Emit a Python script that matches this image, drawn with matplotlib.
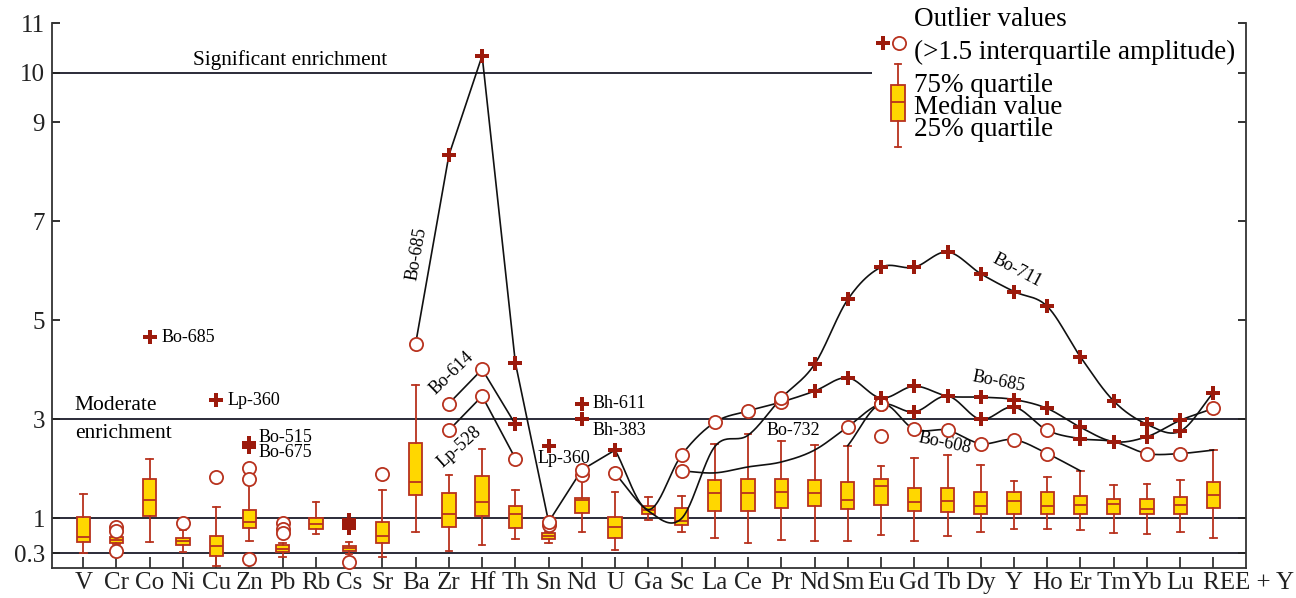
import numpy as np
import matplotlib
matplotlib.use("Agg")
import matplotlib.pyplot as plt
from matplotlib.transforms import ScaledTranslation

plt.rcParams["font.family"] = ["Liberation Serif", "DejaVu Serif"]

RED = "#b8321e"
DARK = "#9c1a0c"
GOLD = "#ffd700"
LINE = "#2b2b38"

elements = ["V", "Cr", "Co", "Ni", "Cu", "Zn", "Pb", "Rb", "Cs", "Sr", "Ba", "Zr", "Hf",
            "Th", "Sn", "Nd", "U", "Ga", "Sc", "La", "Ce", "Pr", "Nd", "Sm", "Eu", "Gd",
            "Tb", "Dy", "Y", "Ho", "Er", "Tm", "Yb", "Lu", "REE + Y"]

# box statistics per element (enrichment coefficient)
whislo = [0.30, 0.49, 0.52, 0.32, 0.04, 0.55, 0.22, 0.68, 0.28, 0.23, 0.73, 0.34, 0.46,
          0.58, 0.51, 0.72, 0.36, 0.97, 0.73, 0.61, 0.51, 0.56, 0.55, 0.54, 0.67, 0.55,
          0.65, 0.72, 0.78, 0.79, 0.77, 0.71, 0.69, 0.73, 0.60]
q1 = [0.53, 0.51, 1.05, 0.46, 0.24, 0.80, 0.32, 0.78, 0.35, 0.50, 1.47, 0.82, 1.05,
      0.81, 0.58, 1.12, 0.61, 1.10, 0.86, 1.16, 1.16, 1.22, 1.25, 1.19, 1.28, 1.16,
      1.14, 1.10, 1.10, 1.09, 1.08, 1.08, 1.08, 1.10, 1.22]
med = [0.63, 0.565, 1.37, 0.54, 0.44, 0.92, 0.38, 0.89, 0.40, 0.65, 1.73, 1.10, 1.34,
       1.08, 0.645, 1.37, 0.83, 1.18, 0.95, 1.51, 1.51, 1.54, 1.51, 1.37, 1.66, 1.34,
       1.35, 1.25, 1.35, 1.26, 1.28, 1.29, 1.20, 1.27, 1.47]
q3 = [1.03, 0.62, 1.79, 0.60, 0.65, 1.17, 0.46, 1.01, 0.45, 0.93, 2.53, 1.51, 1.86,
      1.26, 0.70, 1.42, 1.03, 1.25, 1.22, 1.77, 1.79, 1.79, 1.77, 1.73, 1.79, 1.62,
      1.62, 1.53, 1.53, 1.53, 1.46, 1.39, 1.39, 1.44, 1.74]
whishi = [1.49, 0.64, 2.20, 0.77, 1.24, 1.72, 0.50, 1.33, 0.53, 1.57, 3.69, 1.88, 2.40,
          1.57, 0.73, 1.77, 1.54, 1.44, 1.46, 2.50, 2.70, 2.56, 2.49, 2.47, 2.06, 2.23,
          2.28, 2.07, 1.75, 1.84, 1.96, 1.67, 1.69, 1.77, 2.38]

# single outliers not joined into sample profiles
circ_pos = [1, 1, 1, 3, 4, 5, 5, 5, 6, 6, 6, 8, 9, 14, 15, 24]
circ_val = [0.83, 0.75, 0.34, 0.91, 1.83, 2.02, 1.79, 0.18, 0.90, 0.78, 0.71, 0.13,
            1.89, 0.86, 1.88, 2.66]
cross_pos = [2, 4, 5, 5, 8, 8, 8, 14, 15, 15]
cross_val = [4.66, 3.39, 2.53, 2.45, 0.97, 0.89, 0.80, 2.47, 3.31, 3.00]

# sample profiles: start index, values, marker code (c circle, p cross, - none)
bo685_a_start = 10
bo685_a = [4.53, 8.33, 10.34, 4.14, 0.93, 1.98, 2.38]
bo685_a_m = "cpppccp"
bo685_b_start = 16
bo685_b = [2.38, 1.18, 2.28, 2.94, 3.17, 3.35, 3.57, 3.84, 3.43, 3.67, 3.47, 3.45, 3.40,
           3.22, 2.84, 2.55, 2.65, 2.98, 3.22]
bo685_b_m = "p-ccccppppppppppppc"
bo711_start = 16
bo711 = [1.91, 1.15, 1.00, 2.45, 2.68, 3.43, 4.11, 5.42, 6.07, 6.07, 6.38, 5.94, 5.58,
         5.28, 4.26, 3.37, 2.90, 2.76, 3.54]
bo711_m = "c----cppppppppppppp"
bo732_start = 18
bo732 = [1.96, 1.92, 2.04, 2.14, 2.38, 2.85, 3.31, 3.15, 3.47, 3.00, 3.25, 2.78, 2.61,
         2.55, 2.31, 2.31, 2.38]
bo732_m = "c----ccppppcppcc-"
bo608_start = 23
bo608 = [2.47, 3.31, 2.80, 2.78, 2.51, 2.59, 2.31, 1.96]
bo608_m = "-cccccc-"
bo614_start = 11
bo614 = [3.32, 4.01, 2.90]
bo614_m = "ccp"
lp528_start = 11
lp528 = [2.78, 3.47, 2.21]
lp528_m = "ccc"


def catmull_rom(x, y, n=24):
    x = np.asarray(x, float)
    y = np.asarray(y, float)
    px = np.concatenate([[2 * x[0] - x[1]], x, [2 * x[-1] - x[-2]]])
    py = np.concatenate([[2 * y[0] - y[1]], y, [2 * y[-1] - y[-2]]])
    xs, ys = [], []
    for i in range(len(x) - 1):
        t = np.linspace(0, 1, n, endpoint=(i == len(x) - 2))
        for p, out in ((px, xs), (py, ys)):
            p0, p1, p2, p3 = p[i:i + 4]
            out.append(0.5 * (2 * p1 + (-p0 + p2) * t
                              + (2 * p0 - 5 * p1 + 4 * p2 - p3) * t ** 2
                              + (-p0 + 3 * p1 - 3 * p2 + p3) * t ** 3))
    return np.concatenate(xs), np.concatenate(ys)


def circle(ax, x, y):
    ax.plot(x, y, "o", ms=9.5, mfc="white", mec=RED, mew=1.3, zorder=4, clip_on=False)


def cross(ax, x, y):
    ax.plot(x, y, "P", ms=9.5, color=DARK, mew=0, zorder=5, clip_on=False)


def profile(ax, start, vals, codes, smooth=True):
    xs = np.arange(start, start + len(vals))
    if smooth:
        cx, cy = catmull_rom(xs, vals)
    else:
        cx, cy = xs, vals
    ax.plot(cx, cy, color="#111111", lw=1.2, zorder=3)
    for x, v, c in zip(xs, vals, codes):
        if c == "c":
            circle(ax, x, v)
        elif c == "p":
            cross(ax, x, v)


fig = plt.figure(figsize=(12.96, 5.98), dpi=100)
ax = fig.add_axes([52 / 1296, 30 / 598, 1194 / 1296, 545 / 598])

for lvl in (0.3, 1, 3):
    ax.axhline(lvl, color=LINE, lw=1.4, zorder=1)
ax.hlines(10, -0.94, 23.73, color=LINE, lw=1.4, zorder=1)

stats = [dict(whislo=a, q1=b, med=c, q3=d, whishi=e, fliers=[])
         for a, b, c, d, e in zip(whislo, q1, med, q3, whishi)]
boxkw = dict(widths=0.4, capwidths=0.2, patch_artist=True, showfliers=False,
             boxprops=dict(facecolor=GOLD, edgecolor=RED, linewidth=1.3),
             medianprops=dict(color=RED, linewidth=1.3),
             whiskerprops=dict(color=RED, linewidth=1.3),
             capprops=dict(color=RED, linewidth=1.3), zorder=2)
ax.bxp(stats, positions=list(range(len(elements))), **boxkw)

for p, v in zip(circ_pos, circ_val):
    circle(ax, p, v)
for p, v in zip(cross_pos, cross_val):
    cross(ax, p, v)

profile(ax, bo685_a_start, bo685_a, bo685_a_m, smooth=False)
profile(ax, bo685_b_start, bo685_b, bo685_b_m)
profile(ax, bo711_start, bo711, bo711_m)
profile(ax, bo732_start, bo732, bo732_m)
profile(ax, bo608_start, bo608, bo608_m)
profile(ax, bo614_start, bo614, bo614_m, smooth=False)
profile(ax, lp528_start, lp528, lp528_m, smooth=False)

# labels
fs = 13
ax.text(6.23, 10.06, "Significant enrichment", ha="center", va="bottom", fontsize=15.3)
ax.text(-0.25, 3.27, "Moderate", ha="left", va="center", fontsize=15.5)
ax.text(-0.25, 2.72, "enrichment", ha="left", va="center", fontsize=15.5)
ax.text(2.35, 4.66, "Bo-685", ha="left", va="center", fontsize=fs)
ax.text(4.33, 3.39, "Lp-360", ha="left", va="center", fontsize=fs)
ax.text(5.27, 2.64, "Bo-515", ha="left", va="center", fontsize=fs)
ax.text(5.27, 2.34, "Bo-675", ha="left", va="center", fontsize=fs)
ax.text(15.33, 3.33, "Bh-611", ha="left", va="center", fontsize=fs)
ax.text(15.33, 2.78, "Bh-383", ha="left", va="center", fontsize=fs)
ax.text(13.68, 2.22, "Lp-360", ha="left", va="center", fontsize=fs)
ax.text(10.03, 6.35, "Bo-685", ha="center", va="center", rotation=80, fontsize=fs)
ax.text(11.08, 3.93, "Bo-614", ha="center", va="center", rotation=44, fontsize=fs)
ax.text(11.33, 2.45, "Lp-528", ha="center", va="center", rotation=42, fontsize=fs)
ax.text(28.08, 6.01, "Bo-711", ha="center", va="center", rotation=-28, fontsize=fs)
ax.text(27.53, 3.76, "Bo-685", ha="center", va="center", rotation=-11, fontsize=fs)
ax.text(25.92, 2.51, "Bo-608", ha="center", va="center", rotation=-12, fontsize=fs)
ax.text(21.36, 2.78, "Bo-732", ha="center", va="center", fontsize=fs)

# key in the upper right corner
lfs = 19.5
cross(ax, 24.06, 10.59)
circle(ax, 24.54, 10.59)
ax.bxp([dict(whislo=8.49, q1=9.03, med=9.40, q3=9.74, whishi=10.18, fliers=[])],
       positions=[24.51], **boxkw)
ax.text(25.0, 11.08, "Outlier values", ha="left", va="center", fontsize=lfs, clip_on=False)
ax.text(25.0, 10.41, "(>1.5 interquartile amplitude)", ha="left", va="center", fontsize=lfs)
ax.text(25.0, 9.73, "75% quartile", ha="left", va="center", fontsize=lfs)
ax.text(25.0, 9.29, "Median value", ha="left", va="center", fontsize=lfs)
ax.text(25.0, 8.85, "25% quartile", ha="left", va="center", fontsize=lfs)

ax.set_xlim(-0.94, 34.98)
ax.set_ylim(0, 11)

yt = [0.3, 1, 3, 5, 7, 9, 10, 11]
ax.set_yticks(yt)
ax.set_yticklabels(["0.3", "1", "3", "5", "7", "9", "10", "11"])
ax.set_xticks(range(len(elements)))
ax.set_xticklabels(elements)
ax.tick_params(axis="y", direction="in", length=6, width=1.3, left=True, right=True,
               labelsize=18, pad=5, colors="#222222")
ax.tick_params(axis="x", direction="in", length=8, width=1.2, labelsize=18, pad=3,
               colors="#222222")
last = ax.get_xticklabels()[-1]
last.set_ha("left")
last.set_transform(last.get_transform() + ScaledTranslation(-10 / 100, 0, fig.dpi_scale_trans))

ax.spines["top"].set_visible(False)
for s in ("left", "right", "bottom"):
    ax.spines[s].set_linewidth(1.3)
    ax.spines[s].set_color("#333333")

fig.savefig("out.png", dpi=100)
print("wrote out.png")
